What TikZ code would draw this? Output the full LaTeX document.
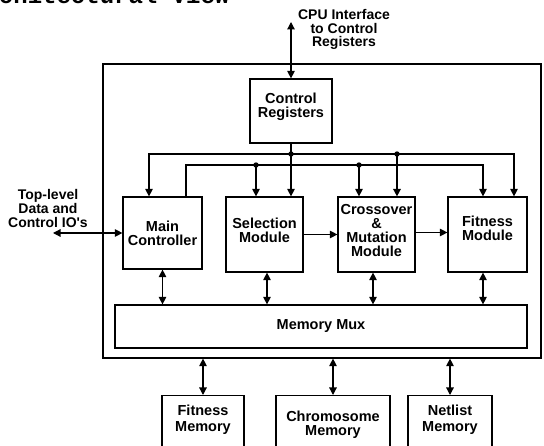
\documentclass[tikz,border=0pt]{standalone}
\usepackage{fontspec}
\setmainfont{Liberation Sans}
\newfontfamily\headfont{Liberation Mono}
\usetikzlibrary{arrows.meta}

\begin{document}
\begin{tikzpicture}[x=1pt,y=-1pt,>={Triangle[length=7.5pt,width=7.5pt]},line width=1.2pt,
	block node/.style={draw,rectangle,align=center,inner sep=1pt,font=\fontsize{14.5}{14}\selectfont\bfseries},
	mem node/.style={block node,anchor=north,text depth=32pt,inner sep=9pt}]

	\path[use as bounding box,clip] (0,0) rectangle (544,446);
	\node[font=\headfont\fontsize{24}{24}\selectfont\bfseries,anchor=base east,inner sep=0pt] (title) at (230,4) {Architectural View};

	\node[draw,minimum width=438pt,minimum height=294pt,inner sep=0pt] (chip) at (322,211) {};
	\node[block node,minimum width=82pt,minimum height=64pt,text depth=11pt] (ctrl) at (291,111) {Control\\Registers};
	\node[block node,minimum width=79pt,minimum height=72pt] (main) at (162.5,233) {Main\\Controller};
	\node[block node,minimum width=77pt,minimum height=75pt,text depth=9pt] (sel) at (264.5,234.5) {Selection\\Module};
	\node[block node,minimum width=77pt,minimum height=75pt,text depth=9pt] (cross) at (376.5,234.5) {Crossover\\\&\\Mutation\\Module};
	\node[block node,minimum width=79pt,minimum height=75pt,text depth=13pt] (fit) at (487.5,234.5) {Fitness\\Module};
	\node[block node,minimum width=412pt,minimum height=43pt] (mux) at (321,326.5) {Memory Mux};
	\node[mem node,minimum width=82pt,font=\fontsize{14.5}{16}\selectfont\bfseries] (fitmem) at (203,395) {Fitness\\Memory};
	\node[mem node,minimum width=114pt,inner ysep=15pt] (chrmem) at (333,395) {Chromosome\\Memory};
	\node[mem node,minimum width=84pt,font=\fontsize{14.5}{16}\selectfont\bfseries] (netmem) at (450,395) {Netlist\\Memory};

	\node[font=\fontsize{14}{13.5}\selectfont\bfseries,align=center] (cpulabel) at (344,29.5) {CPU Interface\\to Control\\Registers};
	\node[font=\fontsize{14}{14}\selectfont\bfseries,align=center] (iolabel) at (48,208.5) {Top-level\\Data and\\Control IO\textquotesingle s};

	\coordinate (cpu) at (291,22);
	\coordinate (io) at (53,233);
	\coordinate (bus1) at (0,154);
	\coordinate (bus2) at (0,165);

	% control bus
	\coordinate (m1) at ([xshift=-13.5pt]main.north);
	\coordinate (m2) at ([xshift=23.5pt]main.north);
	\coordinate (s2) at ([xshift=-8.5pt]sel.north);
	\coordinate (c1) at ([xshift=20.5pt]cross.north);
	\coordinate (c2) at ([xshift=-17.5pt]cross.north);
	\coordinate (f1) at ([xshift=26.5pt]fit.north);
	\coordinate (f2) at ([xshift=-4.5pt]fit.north);

	\draw[->] (ctrl.south) -- (ctrl.south |- sel.north);
	\draw[->] (ctrl.south |- bus1) -| (m1);
	\draw[->] (ctrl.south |- bus1) -| (f1);
	\draw[->,line width=1.6pt] (c1 |- bus1) -- (c1);
	\draw[->] (m2) |- (f2 |- bus2) -- (f2);
	\draw[->] (s2 |- bus2) -- (s2);
	\draw[->] (c2 |- bus2) -- (c2);
	\fill (ctrl.south |- bus1) circle (2.7pt);
	\fill (c1 |- bus1) circle (2.7pt);
	\fill (s2 |- bus2) circle (2.7pt);
	\fill (c2 |- bus2) circle (2.7pt);

	% memory mux links
	\coordinate (mm) at (main.south);
	\coordinate (ms) at ([xshift=2.5pt]sel.south);
	\coordinate (mc) at ([xshift=-3.5pt]cross.south);
	\coordinate (mf) at ([xshift=-4.5pt]fit.south);

	\path[<->]
	(cpu) edge (ctrl.north)
	(io) edge (main.west)
	(mm) edge (mm |- mux.north)
	(ms) edge (ms |- mux.north)
	(mc) edge (mc |- mux.north)
	(mf) edge (mf |- mux.north)
	(fitmem.north |- chip.south) edge (fitmem.north)
	(chrmem.north |- chip.south) edge (chrmem.north)
	(netmem.north |- chip.south) edge (netmem.north);

	\path[->]
	(sel) edge (cross)
	([yshift=2pt]cross.east) edge ([yshift=2pt]fit.west);
\end{tikzpicture}
\end{document}
